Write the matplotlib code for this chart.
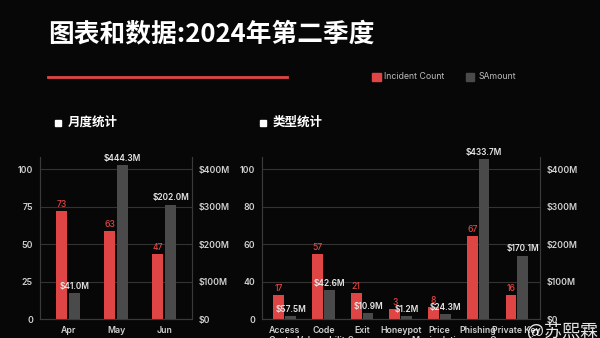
import matplotlib
matplotlib.use("Agg")
import matplotlib.pyplot as plt
from matplotlib.patches import Rectangle
import numpy as np

plt.rcParams['font.family'] = ['Inter', 'Noto Sans CJK SC', 'DejaVu Sans']
CJK = ['Noto Sans CJK SC', 'DejaVu Sans']

# data (bar heights in left-axis units, amounts in $M)
months = ['Apr', 'May', 'Jun']
month_count = [72, 59, 43.5]
month_amount = [69, 412, 306]
month_count_text = ['73', '63', '47']
month_amount_text = ['$41.0M', '$444.3M', '$202.0M']

types = ['Access\nControl', 'Code\nVulnerability', 'Exit\nScams', 'Honeypot',
         'Price\nManipulation', 'Phishing', 'Private Key\nCompromise']
type_count = [16.2, 43.6, 17.3, 6.7, 8.4, 55.8, 16.2]
type_amount = [9, 78, 16, 9, 15, 428, 170]
type_count_text = ['17', '57', '21', '3', '8', '67', '16']
type_amount_text = ['$57.5M', '$42.6M', '$10.9M', '$1.2M', '$24.3M', '$433.7M', '$170.1M']

left_ticks = [0, 25, 50, 75, 100]
month_tick_labels = ['0', '25', '50', '75', '100']
type_tick_labels = ['0', '40', '60', '80', '100']
right_tick_labels = ['$0', '$100M', '$200M', '$300M', '$400M']

BG = '#070707'
RED = '#e04545'
GRAY = '#4a4a4a'
TXT = '#d0d0d0'

fig = plt.figure(figsize=(6, 3.38), dpi=100, facecolor=BG)


def panel(rect, cats, counts, amounts, ctext, atext, ltl, xlim, w, off):
    ax = fig.add_axes(rect)
    ax2 = ax.twinx()
    x = np.arange(len(cats))
    ax.set_facecolor(BG)
    ax.bar(x - off, counts, w, color=RED, zorder=3)
    ax2.bar(x + off, amounts, w, color=GRAY, zorder=3)
    ax.set_ylim(0, 108.4)
    ax2.set_ylim(0, 433.6)
    ax.set_xlim(*xlim)
    ax.set_yticks(left_ticks, ltl)
    ax2.set_yticks([t * 4 for t in left_ticks], right_tick_labels)
    ax.set_xticks(x, cats)
    ax.grid(axis='y', color='#333333', lw=0.8, zorder=0)
    for a in (ax, ax2):
        a.tick_params(length=0, labelsize=6.3, labelcolor=TXT)
        for s in a.spines.values():
            s.set_color('#3a3a3a')
            s.set_linewidth(0.8)
        a.spines['top'].set_visible(False)
        for t in a.get_xticklabels() + a.get_yticklabels():
            t.set_fontweight('semibold')
    ax.tick_params(axis='y', pad=5)
    ax2.tick_params(axis='y', pad=5)
    ax.tick_params(axis='x', pad=5)
    for t in ax.get_xticklabels():
        t.set_linespacing(1.1)
    for i in range(len(cats)):
        ax.annotate(ctext[i], (x[i] - off, counts[i]), xytext=(0, 1.5),
                    textcoords='offset points', ha='center', va='bottom',
                    color=RED, fontsize=6.2, fontweight='medium', zorder=5)
        ax2.annotate(atext[i], (x[i] + off, amounts[i]), xytext=(0, 1.5),
                     textcoords='offset points', ha='center', va='bottom',
                     color='#e6e6e6', fontsize=6, fontweight='semibold', zorder=5)
    return ax


panel([40 / 600, 18.7 / 338, 152 / 600, 162.6 / 338], months, month_count, month_amount,
      month_count_text, month_amount_text, month_tick_labels, (-0.59, 2.58), 0.23, 0.135)
panel([262.3 / 600, 18.7 / 338, 277.7 / 600, 162.6 / 338], types, type_count, type_amount,
      type_count_text, type_amount_text, type_tick_labels, (-0.58, 6.6), 0.28, 0.152)

# title, red rule and legend
fig.text(48 / 600, 1 - 33.5 / 338, '图表和数据:2024年第二季度', color='white',
         fontsize=18.5, fontweight='bold', va='center', ha='left', family=CJK)
fig.add_artist(plt.Line2D([48 / 600, 287 / 600], [1 - 76.7 / 338] * 2, color=RED, lw=2))
fig.add_artist(Rectangle((372 / 600, 1 - 80.7 / 338), 8.5 / 600, 8 / 338,
                         color=RED, transform=fig.transFigure))
fig.text(384 / 600, 1 - 76.5 / 338, 'Incident Count', color='#bbbbbb', fontsize=6.3, va='center')
fig.add_artist(Rectangle((466 / 600, 1 - 80.7 / 338), 8.5 / 600, 8 / 338,
                         color=GRAY, transform=fig.transFigure))
fig.text(479 / 600, 1 - 76.5 / 338, 'SAmount', color='#bbbbbb', fontsize=6.3, va='center')

# section headers
fig.add_artist(Rectangle((55 / 600, 1 - 126 / 338), 6 / 600, 6 / 338,
                         color='white', transform=fig.transFigure))
fig.text(68 / 600, 1 - 122 / 338, '月度统计', color='white', fontsize=9,
         fontweight='bold', va='center', family=CJK)
fig.add_artist(Rectangle((260 / 600, 1 - 126 / 338), 6 / 600, 6 / 338,
                         color='white', transform=fig.transFigure))
fig.text(273 / 600, 1 - 122 / 338, '类型统计', color='white', fontsize=9,
         fontweight='bold', va='center', family=CJK)

# watermark
fig.text(527 / 600, 1 - 333 / 338, '@苏熙霖', color='white', fontsize=13,
         va='center', alpha=0.9, family=CJK)

fig.savefig('out.png', dpi=100, facecolor=BG)
